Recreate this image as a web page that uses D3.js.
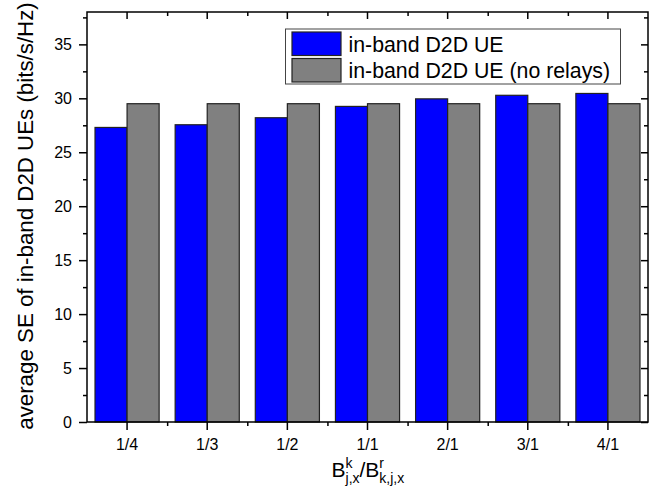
<!DOCTYPE html>
<html>
<head>
<meta charset="utf-8">
<script src="https://cdn.jsdelivr.net/npm/d3@7"></script>
<style>
  body { margin: 0; background: #fff; }
  svg text { font-family: Arial, "Liberation Sans", sans-serif; fill: #000; }
</style>
</head>
<body>
<div id="chart"></div>
<script>
var svgWidth = 657;
var svgHeight = 500;

var margin = {top: 12, right: 9, bottom: 78, left: 87},
    width = svgWidth - margin.left - margin.right,
    height = svgHeight - margin.top - margin.bottom;

// data
var categories = ["1/4", "1/3", "1/2", "1/1", "2/1", "3/1", "4/1"];
var relayValues = [27.3, 27.55, 28.2, 29.25, 29.95, 30.28, 30.45];
var noRelayValues = [29.5, 29.5, 29.5, 29.5, 29.5, 29.5, 29.5];
var seriesNames = ["in-band D2D UE", "in-band D2D UE (no relays)"];
var seriesColors = ["#0000ff", "#808080"];
var yTicks = [0, 5, 10, 15, 20, 25, 30, 35];

var tableData = categories.map(function(c, i) {
    return {cat: c, values: [relayValues[i], noRelayValues[i]]};
});

var svg = d3.select("#chart").append("svg")
    .attr("width", svgWidth)
    .attr("height", svgHeight)
    .append("g")
    .attr("transform", "translate(" + margin.left + "," + margin.top + ")");

var x = d3.scaleBand()
    .domain(categories)
    .range([0, width])
    .paddingInner(0.2)
    .paddingOuter(0.1);

var x1 = d3.scaleBand()
    .domain([0, 1])
    .range([0, x.bandwidth()]);

var xMinor = d3.scaleLinear()
    .domain([0, categories.length])
    .range([0, width]);

var y = d3.scaleLinear()
    .domain([0, 38])
    .range([height, 0]);

var minorY = d3.range(2.5, 38, 5);

// bars
var group = svg.selectAll(".group")
    .data(tableData)
    .enter().append("g")
    .attr("class", "group")
    .attr("transform", function(d) { return "translate(" + x(d.cat) + ",0)"; });

group.selectAll("rect")
    .data(function(d) { return d.values; })
    .enter().append("rect")
    .attr("x", function(d, i) { return x1(i); })
    .attr("y", function(d) { return y(d); })
    .attr("width", x1.bandwidth())
    .attr("height", function(d) { return height - y(d); })
    .attr("fill", function(d, i) { return seriesColors[i]; })
    .attr("stroke", "#222")
    .attr("stroke-width", 1.2);

// axes
function styleAxis(g) {
    g.select(".domain").remove();
    g.selectAll("line").attr("stroke", "#000").attr("stroke-width", 1.5);
    g.selectAll("text").style("font-size", "16px").attr("fill", "#000");
}

svg.append("g")
    .call(d3.axisLeft(y).tickValues(yTicks).tickSize(8).tickPadding(7))
    .call(styleAxis);
svg.append("g")
    .call(d3.axisLeft(y).tickValues(minorY).tickSize(4).tickFormat(""))
    .call(styleAxis);

svg.append("g")
    .attr("transform", "translate(" + width + ",0)")
    .call(d3.axisRight(y).tickValues(yTicks).tickSize(-7).tickFormat(""))
    .call(styleAxis);
svg.append("g")
    .attr("transform", "translate(" + width + ",0)")
    .call(d3.axisRight(y).tickValues(minorY).tickSize(-4).tickFormat(""))
    .call(styleAxis);

svg.append("g")
    .attr("transform", "translate(0," + height + ")")
    .call(d3.axisBottom(x).tickSize(8).tickPadding(9))
    .call(styleAxis);
svg.append("g")
    .attr("transform", "translate(0," + height + ")")
    .call(d3.axisBottom(xMinor).tickValues(d3.range(1, categories.length)).tickSize(4).tickFormat(""))
    .call(styleAxis);

svg.append("g")
    .call(d3.axisTop(x).tickSize(-7).tickFormat(""))
    .call(styleAxis);
svg.append("g")
    .call(d3.axisTop(xMinor).tickValues(d3.range(1, categories.length)).tickSize(-4).tickFormat(""))
    .call(styleAxis);

// frame
svg.append("rect")
    .attr("width", width)
    .attr("height", height)
    .attr("fill", "none")
    .attr("stroke", "#000")
    .attr("stroke-width", 1.5);

// y label
svg.append("text")
    .attr("transform", "translate(" + (33 - margin.left) + "," + (216 - margin.top) + ") rotate(-90)")
    .attr("text-anchor", "middle")
    .style("font-size", "22.3px")
    .text("average SE of in-band D2D UEs (bits/s/Hz)");

// x label with stacked super/subscripts
var xl = svg.append("g")
    .attr("transform", "translate(" + (331.5 - margin.left) + "," + (477 - margin.top) + ")");
var cursor = 0;
function part(str, size, dy) {
    var t = xl.append("text").attr("x", cursor).attr("y", dy).style("font-size", size + "px").text(str);
    return t.node().getComputedTextLength();
}
function stacked(sup, sub) {
    var a = part(sup, 14, -9);
    var b = part(sub, 14, 6);
    cursor += Math.max(a, b);
}
cursor += part("B", 21, 0);
stacked("k", "j,x");
cursor += part("/B", 21, 0);
stacked("r", "k,j,x");

// legend
var legend = svg.append("g")
    .attr("transform", "translate(" + (285.5 - margin.left) + "," + (29 - margin.top) + ")");

legend.append("rect")
    .attr("width", 335)
    .attr("height", 55)
    .attr("fill", "#fff")
    .attr("stroke", "#444")
    .attr("stroke-width", 1);

legend.selectAll(".swatch")
    .data(seriesNames)
    .enter().append("rect")
    .attr("class", "swatch")
    .attr("x", 6.5)
    .attr("y", function(d, i) { return 3 + i * 26.5; })
    .attr("width", 49)
    .attr("height", 23.5)
    .attr("fill", function(d, i) { return seriesColors[i]; })
    .attr("stroke", "#222")
    .attr("stroke-width", 1.2);

legend.selectAll(".label")
    .data(seriesNames)
    .enter().append("text")
    .attr("class", "label")
    .attr("x", 63)
    .attr("y", function(d, i) { return 22.5 + i * 26.5; })
    .style("font-size", "21.3px")
    .text(function(d) { return d; });
</script>
</body>
</html>
